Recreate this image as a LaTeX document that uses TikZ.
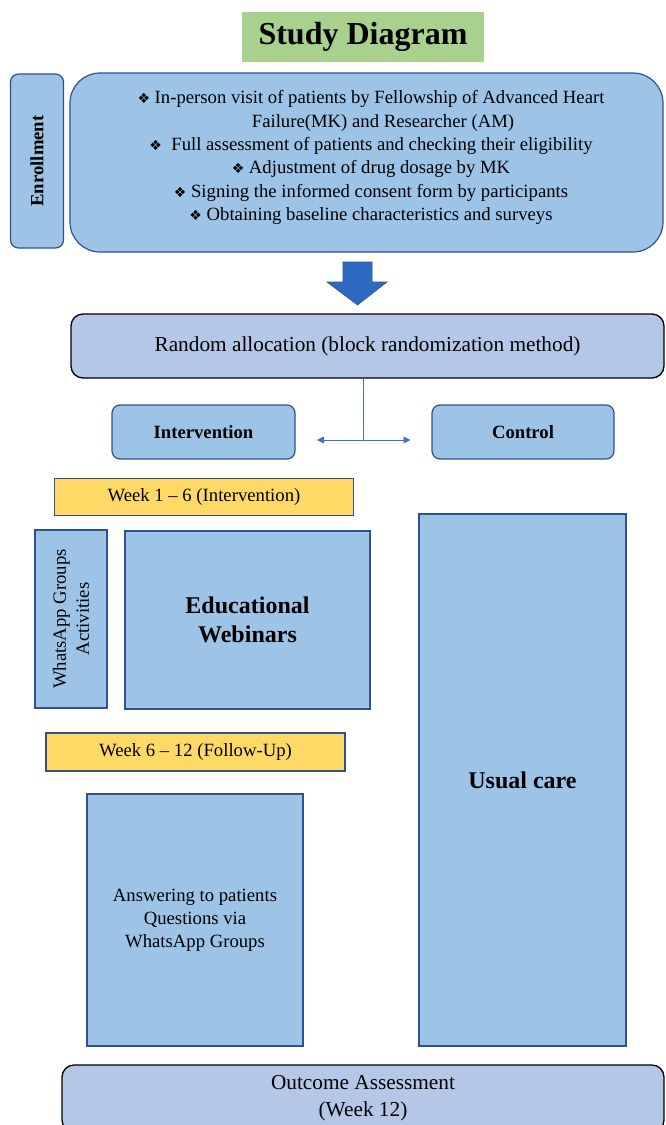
\documentclass[tikz,border=0pt]{standalone}
\usepackage{fontspec}
\setmainfont{Liberation Serif}
\newfontfamily\symfont{DejaVu Sans}
\usetikzlibrary{arrows.meta}
\definecolor{lblue}{HTML}{9DC3E6}
\definecolor{dblue}{HTML}{2F528F}
\definecolor{lpurp}{HTML}{B4C7E7}
\definecolor{tgreen}{HTML}{A9D18E}
\definecolor{ylw}{HTML}{FFD966}
\definecolor{arrblue}{HTML}{2E6AC2}
\definecolor{lineblue}{HTML}{4472C4}
\newcommand{\bul}{{\symfont\fontsize{14}{14}\selectfont ❖}}
\begin{document}
\begin{tikzpicture}[x=1pt,y=-1pt,
  base/.style={inner sep=0pt, align=center, font=\fontsize{18.7}{23}\selectfont},
  bluebox/.style={base, draw=dblue, line width=1.2pt, fill=lblue},
  purpbox/.style={base, draw=black, line width=1.3pt, fill=lpurp, rounded corners=12pt, font=\fontsize{21.3}{27}\selectfont},
  weekbox/.style={base, draw=dblue, line width=1.2pt, fill=ylw},
  conn/.style={lineblue, line width=0.9pt},
]
\path[use as bounding box] (0,0) rectangle (665,1125);
\clip (0,0) rectangle (665,1125);

% title
\node[base, fill=tgreen, minimum width=242pt, minimum height=50pt, font=\bfseries\fontsize{32}{36}\selectfont] (title) at (363,37.3) {Study Diagram};

% enrollment
\node[bluebox, rounded corners=8pt, rotate=90, minimum width=174pt, minimum height=53pt, font=\bfseries\fontsize{18.7}{20}\selectfont] (enr) at (37,161) {Enrollment};
\node[bluebox, rounded corners=30pt, minimum width=593pt, minimum height=179pt] (enrbox) at (366.5,162.5) {};
\node[base, font=\fontsize{18.7}{23.3}\selectfont] (enrtxt) at (371,157.5) {%
\bul\ In-person visit of patients by Fellowship of Advanced Heart\\
\hspace*{24pt}Failure(MK) and Researcher (AM)\\
\bul\ \ Full assessment of patients and checking their eligibility\\
\bul\ Adjustment of drug dosage by MK\\
\bul\ Signing the informed consent form by participants\\
\bul\ Obtaining baseline characteristics and surveys};

% big arrow
\path[fill=arrblue, draw=dblue, line width=0.6pt]
  (343,262) -- (372,262) -- (372,282) -- (387,282) -- (357.5,305) -- (327,282) -- (343,282) -- cycle;

% random allocation
\node[purpbox, minimum width=593pt, minimum height=64pt] (rand) at (367.5,346) {Random allocation (block randomization method)};

% groups
\node[bluebox, rounded corners=8pt, minimum width=183pt, minimum height=54pt, font=\bfseries\fontsize{18.7}{23}\selectfont] (interv) at (203.5,432) {Intervention};
\node[bluebox, rounded corners=8pt, minimum width=182pt, minimum height=54pt, font=\bfseries\fontsize{18.7}{23}\selectfont] (control) at (523,432) {Control};

\coordinate (split) at (363.5,440);
\coordinate (la) at (317,440);
\coordinate (ra) at (410.5,440);
\draw[conn] (rand.south -| split) -- (split);
\draw[conn, {Triangle[length=7pt,width=7pt]}-{Triangle[length=7pt,width=7pt]}] (la) -- (ra);

% intervention arm
\node[weekbox, minimum width=299pt, minimum height=37pt] (wk1) at (204,497) {Week 1 -- 6 (Intervention)};
\node[bluebox, rotate=90, minimum width=178pt, minimum height=72pt, font=\fontsize{18.7}{23}\selectfont] (whats) at (71,619) {WhatsApp Groups\\Activities};
\node[bluebox, minimum width=245pt, minimum height=178pt, font=\bfseries\fontsize{24}{29}\selectfont] (webin) at (247.5,620) {Educational\\Webinars};
\node[weekbox, minimum width=299pt, minimum height=38pt] (wk2) at (195.5,752) {Week 6 -- 12 (Follow-Up)};
\node[bluebox, minimum width=216pt, minimum height=252pt] (answer) at (195,920) {Answering to patients\\Questions via\\WhatsApp Groups};

% control arm
\node[bluebox, minimum width=207pt, minimum height=532pt, font=\bfseries\fontsize{24}{29}\selectfont] (usual) at (522.5,780) {Usual care};

% outcome
\node[purpbox, minimum width=602pt, minimum height=67pt] (outcome) at (363,1098.5) {Outcome Assessment\\(Week 12)};
\end{tikzpicture}
\end{document}
